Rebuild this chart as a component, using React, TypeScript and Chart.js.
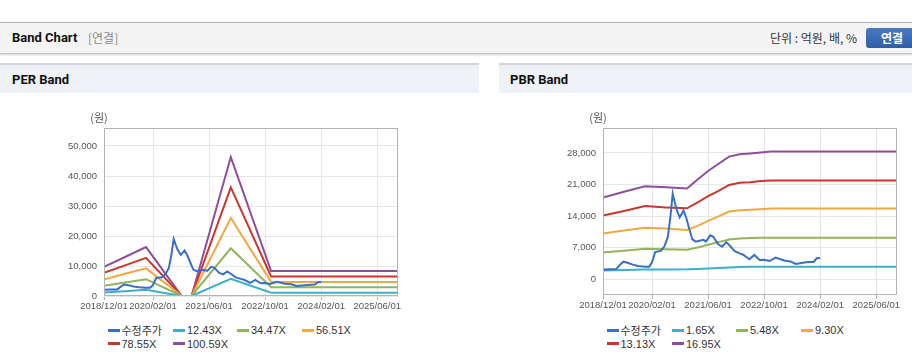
import React, { useEffect, useRef } from 'react';
import { Chart, registerables } from 'chart.js';

Chart.register(...registerables);

// ---- axis ticks (months since 2018/12/01) ----
const xTickMonths = [0, 14, 30, 46, 62, 78];
const xTickLabels = ['2018/12/01', '2020/02/01', '2021/06/01', '2022/10/01', '2024/02/01', '2025/06/01'];
const xMaxMonth = 84;

// ---- adjusted price (수정주가) ----
const priceMonths = [0, 2, 3.8, 5, 5.8, 7, 8.5, 10, 12, 13.2, 14, 14.9, 16.5, 17.5, 18.5, 19.2, 19.9, 20.5, 21, 21.9, 23, 23.8, 24.5, 25.5, 26.5, 27.5, 28.7, 29.4, 30.6, 31.5, 32.9, 34, 35.2, 36.2, 37.6, 39, 40, 41.8, 43.2, 44.7, 46, 47.5, 49.3, 51.7, 53.5, 55, 58, 60.2, 61, 62];
const priceValues = [2100, 2150, 2200, 3300, 3850, 3600, 3200, 2900, 2750, 2750, 3700, 6000, 6250, 7200, 9300, 13500, 19000, 17000, 15500, 13700, 15200, 13500, 11500, 8800, 8300, 8500, 8700, 8300, 9700, 9400, 7700, 7200, 8200, 7400, 6200, 5700, 5400, 4400, 5350, 4250, 4300, 4000, 4750, 4100, 3900, 3350, 3700, 3850, 4600, 4650];

// ---- PER band ----
const perLabels = ['12.43X', '34.47X', '56.51X', '78.55X', '100.59X'];
const perBandMonths = [0, 6, 12, 22.2, 23.5, 25, 36.2, 47.7, 84];
const per1243 = [1200, 1600, 2050, 0, null, 0, 5700, 1100, 1100];
const per3447 = [3400, 4500, 5600, 0, null, 0, 15900, 2900, 2900];
const per5651 = [5500, 7400, 9200, 0, null, 0, 26000, 4700, 4700];
const per7855 = [7700, 10200, 12700, 0, null, 0, 36200, 6500, 6500];
const per10059 = [9700, 13000, 16300, 0, null, 0, 46300, 8300, 8300];
const perYTicks = [0, 10000, 20000, 30000, 40000, 50000];

// ---- PBR band ----
const pbrLabels = ['1.65X', '5.48X', '9.30X', '13.13X', '16.95X'];
const pbrBandMonths = [0, 6, 12, 18, 24, 27, 30, 33, 36, 39, 42, 45, 48, 84];
const pbr165 = [1900, 2000, 2100, 2100, 2150, 2250, 2350, 2450, 2550, 2650, 2700, 2700, 2700, 2700];
const pbr548 = [5900, 6300, 6700, 6600, 6500, 7000, 7600, 8200, 8800, 9000, 9100, 9150, 9150, 9150];
const pbr930 = [10100, 10800, 11400, 11200, 10900, 11800, 12900, 13900, 15000, 15300, 15400, 15500, 15650, 15650];
const pbr1313 = [14100, 15100, 16200, 15900, 15700, 17000, 18400, 19600, 20900, 21400, 21500, 21800, 21900, 21900];
const pbr1695 = [18100, 19400, 20600, 20400, 20100, 22100, 24000, 25600, 27200, 27700, 27900, 28100, 28350, 28350];
const pbrYTicks = [0, 7000, 14000, 21000, 28000];

const priceLabel = '수정주가';
const colors = ['#3a6fc4', '#3bb0c9', '#92b45c', '#f0a940', '#c9372c', '#8d4f9c'];

const FONT = '"Liberation Sans", "Noto Sans CJK KR", sans-serif';

const pts = (xs: number[], ys: (number | null)[]) => xs.map((x, i) => ({ x, y: ys[i] }));

const framePlugin = {
  id: 'frame',
  afterDraw(chart: any) {
    const { ctx, chartArea: a } = chart;
    ctx.save();
    ctx.strokeStyle = '#b4b4b4';
    ctx.lineWidth = 1;
    const l = Math.round(a.left) + 0.5;
    const t = Math.round(a.top) + 0.5;
    const r = Math.round(a.right) - 0.5;
    const b = Math.round(a.bottom) - 0.5;
    ctx.strokeRect(l, t, r - l, b - t);
    ctx.fillStyle = '#555';
    ctx.font = '11px "Noto Sans CJK KR", sans-serif';
    ctx.textAlign = 'center';
    ctx.textBaseline = 'middle';
    ctx.fillText('(원)', a.left - 5, a.top - 10);
    ctx.restore();
  },
};

function makeConfig(bandMonths: number[], bands: (number | null)[][], bandLabels: string[], yMin: number, yMax: number, yTicks: number[]): any {
  const datasets: any[] = [
    {
      label: priceLabel,
      data: pts(priceMonths, priceValues),
      borderColor: colors[0],
      borderWidth: 2,
      pointRadius: 0,
      order: 0,
    },
    ...bands.map((b, i) => ({
      label: bandLabels[i],
      data: pts(bandMonths, b),
      borderColor: colors[i + 1],
      borderWidth: 2,
      pointRadius: 0,
      spanGaps: false,
      order: 1,
    })),
  ];
  return {
    type: 'line',
    data: { datasets },
    plugins: [framePlugin],
    options: {
      animation: false,
      responsive: false,
      devicePixelRatio: 1,
      layout: { padding: { top: 35, left: 0, right: 0, bottom: 0 } },
      plugins: { legend: { display: false }, tooltip: { enabled: false } },
      scales: {
        x: {
          type: 'linear',
          min: 0,
          max: xMaxMonth,
          afterBuildTicks: (s: any) => {
            s.ticks = xTickMonths.map((v) => ({ value: v }));
          },
          afterFit: (s: any) => {
            s.height = 20;
          },
          ticks: {
            autoSkip: false,
            maxRotation: 0,
            padding: 1,
            color: '#555',
            font: { family: FONT, size: 9.5 },
            callback: (v: number) => {
              const i = xTickMonths.indexOf(v);
              return i >= 0 ? xTickLabels[i] : '';
            },
          },
          grid: { color: '#e6e6e6', tickLength: 4, tickColor: '#b4b4b4', drawTicks: true },
          border: { display: false },
        },
        y: {
          type: 'linear',
          min: yMin,
          max: yMax,
          afterBuildTicks: (s: any) => {
            s.ticks = yTicks.map((v) => ({ value: v }));
          },
          afterFit: (s: any) => {
            s.width = 104;
          },
          ticks: {
            padding: 7,
            color: '#555',
            font: { family: FONT, size: 9.5 },
            callback: (v: number) => v.toLocaleString('en-US'),
          },
          grid: { color: '#e6e6e6', drawTicks: false },
          border: { display: false },
        },
      },
    },
  };
}

function ChartCanvas({ config, left, top, width, height }: any) {
  const ref = useRef<HTMLCanvasElement>(null);
  useEffect(() => {
    if (!ref.current) return;
    const chart = new Chart(ref.current, config);
    return () => chart.destroy();
  }, []);
  return <canvas ref={ref} width={width} height={height} style={{ position: 'absolute', left, top, width, height }} />;
}

const legendCols = [3.5, 69, 133, 198];
const legendRows = [330, 343.5];

function Legend({ plotLeft, labels }: { plotLeft: number; labels: string[] }) {
  const all = [priceLabel, ...labels];
  return (
    <>
      {all.map((lab, i) => {
        const col = i % 4;
        const row = Math.floor(i / 4);
        return (
          <div
            key={lab}
            style={{
              position: 'absolute',
              left: plotLeft + legendCols[col],
              top: legendRows[row] - 8,
              height: 16,
              display: 'flex',
              alignItems: 'center',
              whiteSpace: 'nowrap',
              fontSize: 11,
              color: '#333',
              fontFamily: FONT,
            }}
          >
            <span style={{ display: 'inline-block', width: 12, height: 3, background: colors[i], marginRight: 2 }} />
            <span>{lab}</span>
          </div>
        );
      })}
    </>
  );
}

export default function App() {
  const perConfig = makeConfig(perBandMonths, [per1243, per3447, per5651, per7855, per10059], perLabels, 0, 56000, perYTicks);
  const pbrConfig = makeConfig(pbrBandMonths, [pbr165, pbr548, pbr930, pbr1313, pbr1695], pbrLabels, -3550, 33550, pbrYTicks);

  const titleStyle: React.CSSProperties = {
    position: 'absolute',
    fontFamily: 'Roboto, "Noto Sans CJK KR", sans-serif',
    fontWeight: 700,
    fontSize: 13,
    color: '#111',
    lineHeight: '16px',
  };

  return (
    <div style={{ position: 'fixed', left: 0, top: 0, width: 912, height: 364, overflow: 'hidden', background: '#fff', fontFamily: FONT }}>
      {/* top header bar */}
      <div style={{ position: 'absolute', left: 0, top: 22, width: 912, height: 30, background: '#f4f4f4', borderTop: '1px solid #b2b2b2', borderBottom: '1px solid #c4c4c4', boxShadow: '0 1px 2px rgba(0,0,0,0.18)' }} />
      <div style={{ ...titleStyle, left: 12, top: 30 }}>Band Chart</div>
      <div style={{ position: 'absolute', left: 88, top: 30, fontSize: 12, lineHeight: '16px', color: '#8a8a8a', fontFamily: '"Noto Sans CJK KR", sans-serif' }}>[연결]</div>
      <div style={{ position: 'absolute', left: 770, top: 30, fontSize: 12, lineHeight: '16px', color: '#333', fontFamily: '"Noto Sans CJK KR", sans-serif', whiteSpace: 'nowrap' }}>단위 : 억원, 배, %</div>
      <div style={{ position: 'absolute', left: 866, top: 28, width: 52, height: 20, borderRadius: 3, background: 'linear-gradient(#4a7bc2, #2f5ea6)', color: '#fff', fontWeight: 700, fontSize: 12, lineHeight: '20px', textAlign: 'center', fontFamily: '"Noto Sans CJK KR", sans-serif' }}>연결</div>

      {/* PER panel */}
      <div style={{ position: 'absolute', left: 0, top: 63, width: 479, height: 299, borderTop: '2px solid #d4d4d4', borderBottom: '1px solid #d4d4d4', background: '#fff' }} />
      <div style={{ position: 'absolute', left: 0, top: 65, width: 479, height: 28, background: '#eef2f7' }} />
      <div style={{ ...titleStyle, left: 12, top: 72 }}>PER Band</div>
      <ChartCanvas config={perConfig} left={0} top={93} width={402} height={223} />
      <Legend plotLeft={104} labels={perLabels} />

      {/* PBR panel */}
      <div style={{ position: 'absolute', left: 499, top: 63, width: 413, height: 299, borderTop: '2px solid #d4d4d4', borderBottom: '1px solid #d4d4d4', background: '#fff' }} />
      <div style={{ position: 'absolute', left: 499, top: 65, width: 413, height: 28, background: '#eef2f7' }} />
      <div style={{ ...titleStyle, left: 510, top: 72 }}>PBR Band</div>
      <ChartCanvas config={pbrConfig} left={499} top={93} width={402} height={222} />
      <Legend plotLeft={603} labels={pbrLabels} />
    </div>
  );
}
